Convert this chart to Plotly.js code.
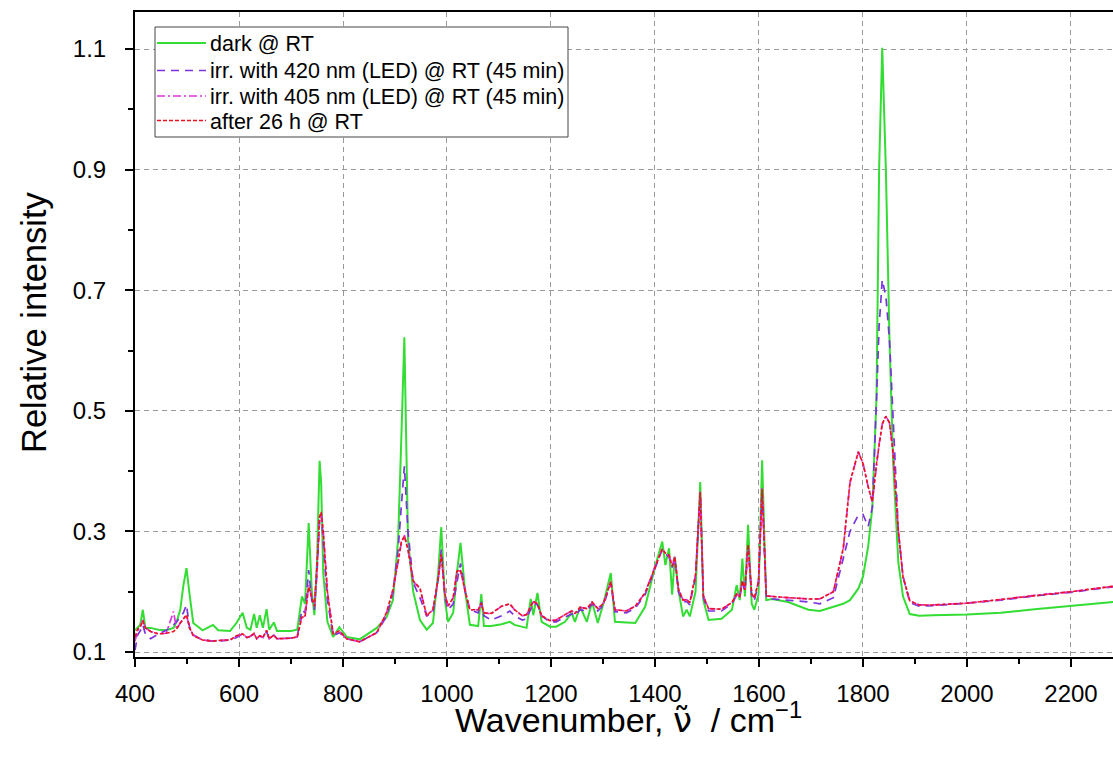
<!DOCTYPE html>
<html>
<head>
<meta charset="utf-8">
<script src="https://cdn.plot.ly/plotly-3.0.1.min.js"></script>
<style>html,body{margin:0;padding:0;background:#fff;}</style>
</head>
<body>
<div id="chart" style="width:1113px;height:762px;"></div>
<script>
// Wavenumber grid (cm^-1)
var wavenumber = [
400,405,410,415,420,430,445,460,474,480,
487,493,499,505,512,530,550,560,583,595,
607,615,622,629,634,640,646,653,658,667,
673,700,712,721,727,734,740,745,750,755,
758,762,770,781,793,807,832,865,884,896,
906,912,918,925,935,948,961,973,983,989,
996,1002,1012,1019,1026,1035,1044,1060,1066,1071,
1085,1105,1121,1130,1145,1153,1161,1166,1174,1182,
1198,1210,1227,1240,1246,1256,1269,1279,1290,1301,
1315,1323,1345,1362,1381,1400,1414,1420,1427,1433,
1438,1445,1454,1461,1467,1478,1487,1493,1503,1528,
1548,1557,1563,1568,1573,1579,1586,1591,1599,1606,
1614,1625,1656,1695,1717,1743,1762,1775,1791,1800,
1810,1818,1826,1831,1837,1844,1851,1858,1868,1877,
1890,1908,1935,2000,2065,2130,2200,2281];

var darkRT = [
0.136,0.140,0.145,0.170,0.140,0.140,0.137,0.136,0.140,0.150,
0.170,0.210,0.239,0.195,0.148,0.136,0.145,0.136,0.135,0.148,
0.165,0.140,0.137,0.163,0.140,0.161,0.140,0.171,0.137,0.149,
0.135,0.135,0.137,0.192,0.180,0.314,0.200,0.161,0.250,0.417,
0.380,0.231,0.150,0.125,0.141,0.125,0.121,0.140,0.158,0.186,
0.286,0.450,0.622,0.286,0.200,0.153,0.137,0.148,0.231,0.307,
0.186,0.150,0.165,0.231,0.281,0.200,0.145,0.143,0.196,0.143,
0.143,0.146,0.150,0.145,0.141,0.140,0.188,0.161,0.198,0.150,
0.142,0.142,0.150,0.165,0.150,0.175,0.150,0.183,0.148,0.181,
0.231,0.150,0.149,0.148,0.175,0.241,0.283,0.244,0.272,0.195,
0.258,0.203,0.159,0.170,0.159,0.200,0.382,0.186,0.153,0.155,
0.170,0.211,0.186,0.255,0.192,0.311,0.180,0.170,0.195,0.418,
0.186,0.188,0.183,0.170,0.168,0.175,0.180,0.186,0.205,0.225,
0.275,0.340,0.523,0.900,1.102,0.900,0.618,0.413,0.248,0.192,
0.163,0.160,0.161,0.162,0.165,0.171,0.176,0.183];

var irr420 = [
0.103,0.128,0.135,0.145,0.130,0.122,0.130,0.136,0.145,0.150,
0.158,0.165,0.178,0.140,0.128,0.120,0.118,0.118,0.120,0.124,
0.130,0.124,0.126,0.130,0.122,0.127,0.124,0.134,0.122,0.128,
0.122,0.123,0.125,0.170,0.165,0.236,0.185,0.170,0.230,0.320,
0.330,0.280,0.186,0.127,0.132,0.122,0.117,0.132,0.160,0.198,
0.270,0.340,0.408,0.300,0.215,0.190,0.160,0.165,0.220,0.270,
0.190,0.170,0.180,0.215,0.247,0.200,0.170,0.165,0.183,0.160,
0.153,0.160,0.168,0.160,0.153,0.155,0.170,0.181,0.178,0.160,
0.150,0.150,0.158,0.163,0.160,0.170,0.168,0.180,0.168,0.178,
0.214,0.167,0.165,0.173,0.195,0.240,0.270,0.262,0.258,0.240,
0.255,0.200,0.183,0.184,0.178,0.225,0.364,0.190,0.168,0.168,
0.180,0.194,0.190,0.216,0.200,0.275,0.192,0.185,0.214,0.369,
0.190,0.188,0.186,0.183,0.180,0.190,0.255,0.300,0.327,0.328,
0.308,0.340,0.520,0.640,0.717,0.690,0.617,0.490,0.300,0.225,
0.182,0.176,0.177,0.181,0.186,0.193,0.199,0.208];

var irr405 = [
0.118,0.135,0.140,0.153,0.140,0.134,0.130,0.131,0.167,0.138,
0.148,0.155,0.161,0.140,0.128,0.120,0.118,0.119,0.120,0.126,
0.130,0.124,0.126,0.130,0.122,0.127,0.124,0.136,0.122,0.128,
0.122,0.123,0.125,0.160,0.160,0.211,0.190,0.175,0.240,0.320,
0.330,0.300,0.200,0.130,0.134,0.122,0.117,0.132,0.165,0.203,
0.250,0.280,0.294,0.270,0.217,0.205,0.160,0.170,0.220,0.261,
0.195,0.176,0.190,0.233,0.235,0.200,0.170,0.170,0.180,0.165,
0.163,0.176,0.179,0.170,0.160,0.162,0.175,0.183,0.180,0.160,
0.152,0.153,0.162,0.168,0.164,0.174,0.172,0.182,0.172,0.181,
0.216,0.170,0.168,0.176,0.198,0.242,0.270,0.264,0.260,0.242,
0.258,0.205,0.186,0.187,0.182,0.228,0.366,0.193,0.172,0.171,
0.182,0.196,0.192,0.218,0.203,0.278,0.196,0.190,0.216,0.372,
0.193,0.192,0.190,0.188,0.188,0.200,0.270,0.380,0.432,0.413,
0.374,0.349,0.413,0.445,0.478,0.491,0.480,0.430,0.300,0.225,
0.185,0.178,0.178,0.181,0.187,0.194,0.200,0.209];

var after26h = [
0.125,0.138,0.142,0.152,0.140,0.134,0.130,0.131,0.134,0.138,
0.148,0.156,0.162,0.140,0.127,0.120,0.118,0.119,0.120,0.127,
0.130,0.124,0.126,0.131,0.122,0.127,0.124,0.136,0.122,0.128,
0.122,0.123,0.125,0.158,0.158,0.208,0.190,0.176,0.242,0.325,
0.332,0.300,0.200,0.130,0.135,0.122,0.117,0.132,0.166,0.203,
0.250,0.282,0.292,0.270,0.218,0.206,0.160,0.171,0.222,0.262,
0.196,0.176,0.190,0.234,0.236,0.200,0.170,0.170,0.181,0.165,
0.164,0.176,0.180,0.170,0.160,0.162,0.176,0.184,0.180,0.160,
0.152,0.153,0.162,0.168,0.164,0.174,0.172,0.183,0.172,0.181,
0.217,0.170,0.168,0.176,0.198,0.242,0.271,0.264,0.261,0.242,
0.258,0.205,0.186,0.187,0.182,0.228,0.365,0.193,0.172,0.171,
0.182,0.196,0.192,0.218,0.203,0.278,0.196,0.190,0.216,0.370,
0.193,0.192,0.190,0.188,0.188,0.200,0.272,0.382,0.432,0.413,
0.374,0.349,0.413,0.446,0.478,0.491,0.480,0.430,0.300,0.224,
0.185,0.178,0.178,0.181,0.187,0.194,0.200,0.209];

var seriesNames = [
  'dark @ RT',
  'irr. with 420 nm (LED) @ RT (45 min)',
  'irr. with 405 nm (LED) @ RT (45 min)',
  'after 26 h @ RT'
];
var seriesColors = ['#33dd33', '#7b33dd', '#dd33dd', '#ee1122'];
var seriesDash = ['solid', '8px,6px', '8px,3px,2px,3px', '4px,2px'];
var seriesWidth = [2, 1.7, 1.7, 1.6];
var seriesY = [darkRT, irr420, irr405, after26h];

var xTickVals = [400,600,800,1000,1200,1400,1600,1800,2000,2200];
var yTickVals = [0.1,0.3,0.5,0.7,0.9,1.1];
var yTickText = ['0.1','0.3','0.5','0.7','0.9','1.1'];
var xTitle = 'Wavenumber, <span style="font-family:DejaVu Sans">\u03bd\u0303</span>\u00a0\u00a0/ cm<sup>\u22121</sup>';
var yTitle = 'Relative intensity';

var traces = seriesY.map(function (yy, i) {
  return {x: wavenumber, y: yy, name: seriesNames[i], mode: 'lines', showlegend: false,
          line: {color: seriesColors[i], width: seriesWidth[i], dash: seriesDash[i]}};
});

// plot-area geometry in pixels (for placing the framed legend)
var L = 135, R = 1113, T = 12, B = 657;
function px(x) { return (x - L) / (R - L); }
function py(y) { return (B - y) / (B - T); }

var shapes = [{type: 'rect', xref: 'paper', yref: 'paper',
  x0: px(155), x1: px(568), y0: py(137), y1: py(27),
  line: {color: '#444', width: 1}, fillcolor: '#fff', layer: 'above'}];
var annotations = [];
var rowY = [43, 70.5, 96, 120.5];
seriesNames.forEach(function (nm, i) {
  shapes.push({type: 'line', xref: 'paper', yref: 'paper',
    x0: px(157), x1: px(206), y0: py(rowY[i]), y1: py(rowY[i]),
    line: {color: seriesColors[i], width: seriesWidth[i], dash: seriesDash[i]}, layer: 'above'});
  annotations.push({xref: 'paper', yref: 'paper', x: px(208), y: py(rowY[i] + 1),
    xanchor: 'left', yanchor: 'middle', showarrow: false, text: nm,
    font: {size: 21.5, color: '#000'}});
});
annotations.push({xref: 'paper', yref: 'paper', x: px(628), y: py(718), xanchor: 'center', yanchor: 'middle',
  showarrow: false, text: xTitle, font: {size: 34, color: '#000'}});
annotations.push({xref: 'paper', yref: 'paper', x: px(34), y: py(322), xanchor: 'center', yanchor: 'middle',
  showarrow: false, text: yTitle, textangle: -90, font: {size: 34.5, color: '#000'}});

var axisCommon = {
  ticks: 'outside', ticklen: 8, tickwidth: 2, tickcolor: '#000',
  showline: true, linewidth: 2, linecolor: '#000',
  showgrid: true, gridcolor: '#9a9a9a', gridwidth: 1, griddash: '5px,4px',
  zeroline: false, tickfont: {size: 24}, automargin: false
};

var layout = {
  width: 1113, height: 762,
  margin: {l: L, r: 1113 - R, t: T, b: 762 - B, pad: 0},
  paper_bgcolor: '#fff', plot_bgcolor: '#fff',
  font: {family: '"Liberation Sans", Arial, sans-serif', color: '#000'},
  showlegend: false,
  xaxis: Object.assign({}, axisCommon, {
    range: [400, 2280.8], tickmode: 'array', tickvals: xTickVals, mirror: true,
    ticklabelstandoff: 6,
    minor: {dtick: 100, tick0: 400, ticks: 'outside', ticklen: 5, tickwidth: 2, tickcolor: '#000'}
  }),
  yaxis: Object.assign({}, axisCommon, {
    range: [0.0917, 1.1614], tickmode: 'array', tickvals: yTickVals, ticktext: yTickText,
    ticklabelstandoff: 14,
    minor: {dtick: 0.1, tick0: 0.1, ticks: 'outside', ticklen: 5, tickwidth: 2, tickcolor: '#000'}
  }),
  shapes: shapes,
  annotations: annotations
};

Plotly.newPlot('chart', traces, layout, {displayModeBar: false, staticPlot: true});
</script>
</body>
</html>
